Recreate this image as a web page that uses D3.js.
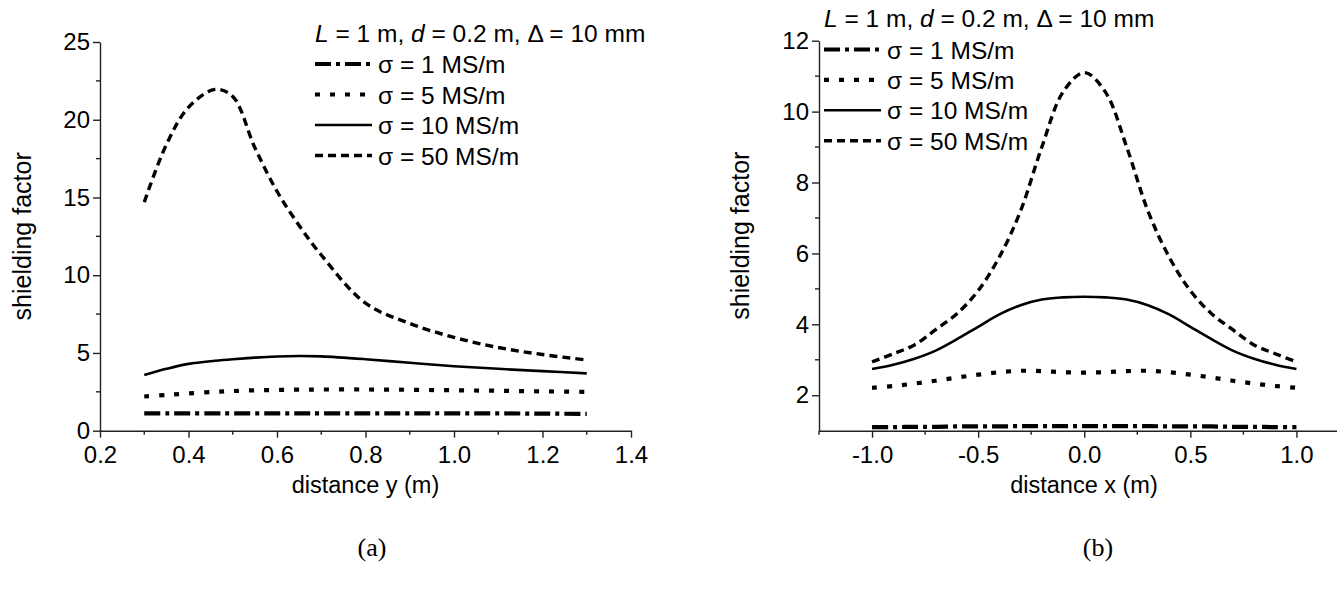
<!DOCTYPE html>
<html>
<head>
<meta charset="utf-8">
<script src="https://cdn.jsdelivr.net/npm/d3@7"></script>
<style>
  html, body { margin: 0; padding: 0; background: #fff; }
  svg { display: block; }
  text { font-family: "Liberation Sans", Arial, sans-serif; fill: #000; }
</style>
</head>
<body>
<svg id="chart" width="1337" height="592"></svg>
<script>
// Panel (a): shielding factor versus distance y
const distY = [0.3, 0.35, 0.4, 0.46, 0.5, 0.55, 0.6, 0.65, 0.7, 0.8, 0.9, 1.0, 1.1, 1.2, 1.3];
const a_s1  = [1.12, 1.12, 1.12, 1.12, 1.12, 1.12, 1.12, 1.12, 1.12, 1.12, 1.12, 1.12, 1.11, 1.10, 1.08];
const a_s5  = [2.2, 2.3, 2.4, 2.5, 2.55, 2.6, 2.62, 2.64, 2.65, 2.65, 2.63, 2.6, 2.57, 2.53, 2.5];
const a_s10 = [3.58, 3.98, 4.3, 4.5, 4.6, 4.7, 4.77, 4.8, 4.78, 4.6, 4.37, 4.15, 3.98, 3.83, 3.69];
const a_s50 = [14.7, 18.4, 20.8, 21.95, 21.5, 18.2, 15.4, 13.2, 11.3, 8.2, 6.9, 6.0, 5.35, 4.9, 4.55];

// Panel (b): shielding factor versus distance x
const distX = [-1.0, -0.9, -0.8, -0.7, -0.6, -0.5, -0.4, -0.3, -0.2, -0.1, 0.0,
               0.1, 0.2, 0.3, 0.4, 0.5, 0.6, 0.7, 0.8, 0.9, 1.0];
const b_s1  = [1.10, 1.10, 1.11, 1.11, 1.12, 1.12, 1.12, 1.13, 1.13, 1.13, 1.13,
               1.13, 1.13, 1.13, 1.12, 1.12, 1.12, 1.11, 1.11, 1.10, 1.10];
const b_s5  = [2.21, 2.26, 2.33, 2.41, 2.5, 2.58, 2.65, 2.69, 2.68, 2.65, 2.64,
               2.65, 2.68, 2.69, 2.65, 2.58, 2.5, 2.41, 2.33, 2.26, 2.21];
const b_s10 = [2.74, 2.86, 3.03, 3.26, 3.58, 3.93, 4.28, 4.54, 4.7, 4.76, 4.78,
               4.76, 4.7, 4.54, 4.28, 3.93, 3.58, 3.26, 3.03, 2.86, 2.74];
const b_s50 = [2.94, 3.17, 3.42, 3.85, 4.3, 4.95, 5.9, 7.2, 9.0, 10.55, 11.1,
               10.55, 9.0, 7.2, 5.9, 4.95, 4.3, 3.85, 3.42, 3.17, 2.94];

const sigmaLabels = ["σ = 1 MS/m", "σ = 5 MS/m", "σ = 10 MS/m", "σ = 50 MS/m"];

const aXTicks = [0.2, 0.4, 0.6, 0.8, 1.0, 1.2, 1.4];
const aXMinor = [0.3, 0.5, 0.7, 0.9, 1.1, 1.3];
const aYTicks = [0, 5, 10, 15, 20, 25];
const aYMinor = [2.5, 7.5, 12.5, 17.5, 22.5];
const bXTicks = [-1.0, -0.5, 0.0, 0.5, 1.0];
const bXMinor = [-1.25, -0.75, -0.25, 0.25, 0.75, 1.25];
const bYTicks = [2, 4, 6, 8, 10, 12];
const bYMinor = [3, 5, 7, 9, 11];

// line styles for the four conductivities
const styles = [
  { dash: "16,5,4,5", width: 4.2 },
  { dash: "5,10", width: 4.2 },
  { dash: null, width: 2.6 },
  { dash: "8,5", width: 3.4 }
];

const svg = d3.select("#chart");
// one decimal, plain hyphen for negatives
const fmt1 = d => d3.format(".1f")(d).replace("\u2212", "-");

function panel(cfg) {
  const g = svg.append("g");
  const x = d3.scaleLinear().domain(cfg.xDomain).range(cfg.xRange);
  const y = d3.scaleLinear().domain(cfg.yDomain).range(cfg.yRange);

  // axes with major ticks
  const xAxis = d3.axisBottom(x).tickValues(cfg.xTicks).tickFormat(fmt1)
    .tickSizeInner(7).tickSizeOuter(0).tickPadding(8);
  const yAxis = d3.axisLeft(y).tickValues(cfg.yTicks).tickFormat(d3.format("d"))
    .tickSizeInner(7).tickSizeOuter(0).tickPadding(3);

  const gx = g.append("g").attr("transform", `translate(0,${cfg.yRange[0]})`).call(xAxis);
  const gy = g.append("g").attr("transform", `translate(${cfg.xRange[0]},0)`).call(yAxis);

  // minor ticks
  g.append("g").selectAll("line").data(cfg.xMinor).join("line")
    .attr("x1", d => x(d)).attr("x2", d => x(d))
    .attr("y1", cfg.yRange[0]).attr("y2", cfg.yRange[0] + 4)
    .attr("stroke", "#222").attr("stroke-width", 1.4);
  g.append("g").selectAll("line").data(cfg.yMinor).join("line")
    .attr("y1", d => y(d)).attr("y2", d => y(d))
    .attr("x1", cfg.xRange[0]).attr("x2", cfg.xRange[0] - 4)
    .attr("stroke", "#222").attr("stroke-width", 1.4);

  [gx, gy].forEach(ax => {
    ax.selectAll("path, line").attr("stroke", "#222").attr("stroke-width", 1.4);
    ax.selectAll("text").style("font-size", "24px").attr("fill", "#000");
  });

  // curves
  const line = d3.line().x(d => x(d[0])).y(d => y(d[1])).curve(d3.curveCatmullRom.alpha(0.5));
  cfg.series.forEach((vals, i) => {
    const pts = cfg.xs.map((v, k) => [v, vals[k]]);
    g.append("path").datum(pts)
      .attr("d", line)
      .attr("fill", "none")
      .attr("stroke", "#000")
      .attr("stroke-width", styles[i].width)
      .attr("stroke-dasharray", styles[i].dash);
  });

  // axis titles
  g.append("text")
    .attr("transform", `translate(${cfg.yTitleX},${(cfg.yRange[0] + cfg.yRange[1]) / 2}) rotate(-90)`)
    .attr("text-anchor", "middle").style("font-size", "25px")
    .text("shielding factor");
  g.append("text")
    .attr("x", cfg.xTitleX).attr("y", 493)
    .attr("text-anchor", "middle").style("font-size", "23.5px")
    .text(cfg.xTitle);

  // legend header
  const hdr = g.append("text").attr("x", cfg.legX).attr("y", cfg.legHeaderY).style("font-size", "24.5px");
  hdr.append("tspan").style("font-style", "italic").text("L");
  hdr.append("tspan").text(" = 1 m, ");
  hdr.append("tspan").style("font-style", "italic").text("d");
  hdr.append("tspan").text(" = 0.2 m, Δ = 10 mm");

  // legend rows
  sigmaLabels.forEach((lab, i) => {
    const yy = cfg.legRowY + i * cfg.legStep;
    g.append("line")
      .attr("x1", cfg.legX).attr("x2", cfg.legX + 57)
      .attr("y1", yy).attr("y2", yy)
      .attr("stroke", "#000")
      .attr("stroke-width", styles[i].width)
      .attr("stroke-dasharray", styles[i].dash);
    g.append("text")
      .attr("x", cfg.legX + 63).attr("y", yy + 9)
      .style("font-size", "24.5px")
      .text(lab);
  });

  // panel caption
  g.append("text")
    .attr("x", cfg.capX).attr("y", 556)
    .attr("text-anchor", "middle")
    .style("font-family", "'Liberation Serif', 'Times New Roman', serif")
    .style("font-size", "26px")
    .text(cfg.caption);
}

panel({
  xs: distY, series: [a_s1, a_s5, a_s10, a_s50],
  xDomain: [0.2, 1.4], xRange: [100, 631],
  yDomain: [0, 25], yRange: [430.7, 42],
  xTicks: aXTicks, xMinor: aXMinor, yTicks: aYTicks, yMinor: aYMinor,
  yTitleX: 31, xTitleX: 365.5, xTitle: "distance y (m)",
  legX: 315, legHeaderY: 42, legRowY: 64, legStep: 30.5,
  capX: 372, caption: "(a)"
});

panel({
  xs: distX, series: [b_s1, b_s5, b_s10, b_s50],
  xDomain: [-1.25, 1.25], xRange: [819, 1349.5],
  yDomain: [1, 12], yRange: [430.7, 40.7],
  xTicks: bXTicks, xMinor: bXMinor, yTicks: bYTicks, yMinor: bYMinor,
  yTitleX: 749, xTitleX: 1084, xTitle: "distance x (m)",
  legX: 824, legHeaderY: 27, legRowY: 49.5, legStep: 30.4,
  capX: 1098, caption: "(b)"
});
</script>
</body>
</html>
